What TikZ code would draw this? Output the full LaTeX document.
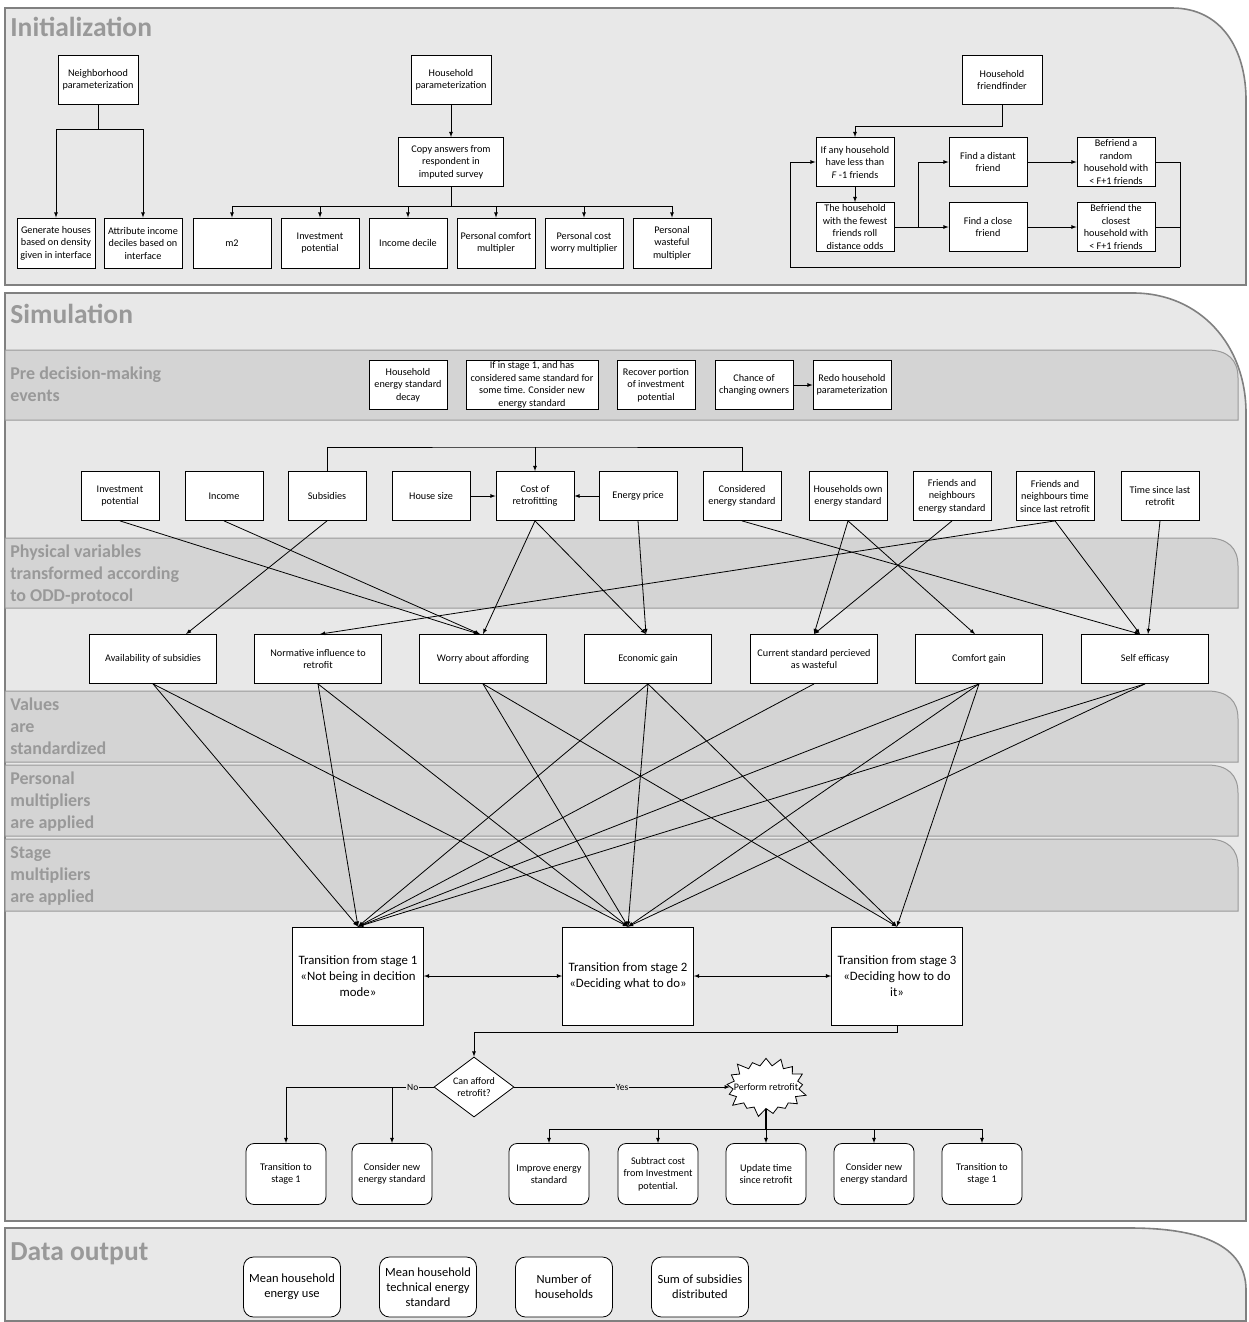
\documentclass[tikz,border=0pt]{standalone}
\usepackage{fontspec}
\setmainfont{Carlito}
\usetikzlibrary{arrows}
\usetikzlibrary{shapes.geometric,shapes.symbols}

\tikzset{
  lane/.style={draw=black!50, line width=1.6pt, fill=black!9},
  band/.style={draw=black!40, line width=1pt, fill=black!17},
  lanetitle/.style={anchor=base west, inner sep=0, text=black!40, font=\bfseries\fontsize{27.5}{30}\selectfont},
  bandtitle/.style={anchor=north west, inner sep=0, align=left, text=black!40, font=\bfseries\fontsize{18}{22}\selectfont},
  box/.style={draw, fill=white, align=center, minimum width=78, minimum height=49, inner sep=1pt, font=\fontsize{10.2}{12.5}\selectfont},
  widebox/.style={box, minimum width=127},
  stagebox/.style={draw, fill=white, align=center, minimum width=131, minimum height=98, font=\fontsize{12.8}{16}\selectfont},
  endbox/.style={box, rounded corners=8, minimum width=80, minimum height=61},
  outbox/.style={draw, fill=white, rounded corners=10, align=center, minimum width=97, minimum height=60, font=\fontsize{12.5}{15}\selectfont},
  lbl/.style={fill=black!9, inner sep=1pt, font=\fontsize{9.5}{11}\selectfont},
  >=latex
}

\begin{document}
\begin{tikzpicture}[x=1pt, y=-1pt, line width=0.8pt]
\useasboundingbox (0,0) rectangle (1249,1322);

% lanes
\draw[lane] (5,8) -- (1172,8) .. controls (1222,8) and (1246,50) .. (1246,100) -- (1246,285) -- (5,285) -- cycle;
\draw[lane] (5,293) -- (1133,293) .. controls (1200,293) and (1246,345) .. (1246,413) -- (1246,1221) -- (5,1221) -- cycle;
\draw[lane] (5,1228) -- (1130,1228) .. controls (1200,1228) and (1246,1245) .. (1246,1290) -- (1246,1321) -- (5,1321) -- cycle;
\foreach \t/\b in {350/420, 538/608, 691/762, 765/836, 839/911}
  \draw[band] (5,\t) -- (1207,\t) .. controls (1228,\t) and (1238,\t+10) .. (1238,\t+28) -- (1238,\b) -- (5,\b) -- cycle;

\node[lanetitle] (ttlinit) at (10,37) {Initialization};
\node[lanetitle] (ttlsim) at (10,323) {Simulation};
\node[lanetitle] (ttlout) at (10,1260) {Data output};
\node[bandtitle] (ttlpre) at (10,366) {Pre decision-making\\events};
\node[bandtitle] (ttlphys) at (10,544) {Physical variables\\transformed according\\to ODD-protocol};
\node[bandtitle] (ttlstd) at (10,697) {Values\\are\\standardized};
\node[bandtitle] (ttlpers) at (10,771) {Personal\\multipliers\\are applied};
\node[bandtitle] (ttlstage) at (10,846) {Stage\\multipliers\\are applied};

% initialization
\node[box, minimum width=80] (nbh) at (98,80) {Neighborhood\\parameterization};
\node[box, minimum width=80] (hhp) at (451,80) {Household\\parameterization};
\node[box, minimum width=105] (copyans) at (451,162) {Copy answers from\\respondent in\\imputed survey};
\node[box, minimum width=80] (ff) at (1002,80) {Household\\friendfinder};
\foreach \n/\x/\t in {gen/56/{Generate houses\\based on density\\given in interface}, attr/143/{Attribute income\\deciles based on\\interface}, msq/232/m2, invpot/320/{Investment\\potential}, incdec/408/{Income decile}, pcomf/496/{Personal comfort\\multipler}, pworry/584/{Personal cost\\worry multiplier}, pwaste/672/{Personal\\wasteful\\multipler}}
  \node[box, minimum height=50] (\n) at (\x,243) {\t};
\node[box] (ifany) at (855,162) {If any household\\have less than\\\textit{F} -1 friends};
\node[box] (fewest) at (855,227) {The household\\with the fewest\\friends roll\\distance odds};
\node[box] (distant) at (988,162) {Find a distant\\friend};
\node[box] (close) at (988,227) {Find a close\\friend};
\node[box] (random) at (1116,162) {Befriend a\\random\\household with\\< F+1 friends};
\node[box] (closest) at (1116,227) {Befriend the\\closest\\household with\\< F+1 friends};

\draw (nbh.south) -- (98,129) coordinate (nbhj);
\draw[->] (nbhj) -| (gen.north);
\draw[->] (nbhj) -| (attr.north);
\draw[->] (hhp) -- (copyans);
\draw (copyans.south) -- (451,206) coordinate (copyj);
\foreach \n in {msq,invpot,incdec,pcomf,pworry,pwaste}
  \draw[->] (copyj) -| (\n.north);
\draw[->] (ff.south) -- ++(0,21) -| (ifany.north);
\draw[->] (ifany) -- (fewest);
\draw (fewest.east) -- (918,227) coordinate (roll);
\draw[->] (roll) |- (distant.west);
\draw[->] (roll) -- (close.west);
\draw[->] (distant) -- (random);
\draw[->] (close) -- (closest);
\draw (random.east) -| (1180,267) coordinate (loop);
\draw (closest.east) -- (closest.east -| loop);
\draw[->] (loop) -- (790,267) |- (ifany.west);

% pre decision-making events
\node[box] (decay) at (408,385) {Household\\energy standard\\decay};
\node[box, minimum width=132, inner sep=0.5pt] (newstd) at (532,385) {If in stage 1, and has\\considered same standard for\\some time. Consider new\\energy standard};
\node[box] (recover) at (656,385) {Recover portion\\of investment\\potential};
\node[box] (owners) at (754,385) {Chance of\\changing owners};
\node[box] (redo) at (852,385) {Redo household\\parameterization};
\draw[->] (owners) -- (redo);

% physical variables
\foreach \n/\x/\t in {invp/120/{Investment\\potential}, income/224/Income, subs/327/Subsidies, hsize/431/House size, cost/535/{Cost of\\retrofitting}, eprice/638/Energy price, cons/742/{Considered\\energy standard}, ownstd/848/{Households own\\energy standard}, frstd/952/{Friends and\\neighbours\\energy standard}, frtime/1055/{Friends and\\neighbours time\\since last retrofit}, tlast/1160/{Time since last\\retrofit}}
  \node[box] (\n) at (\x,496) {\t};
\foreach \n/\x/\t in {avail/153/Availability of subsidies, norm/318/{Normative influence to\\retrofit}, worry/483/Worry about affording, econ/648/Economic gain, waste/814/{Current standard percieved\\as wasteful}, comfort/979/Comfort gain, selfeff/1145/Self efficasy}
  \node[widebox] (\n) at (\x,659) {\t};

\coordinate (costj) at (535,447);
\draw (subs.north) |- (costj) -| (cons.north);
\draw[->] (costj) -- (cost.north);
\draw[->] (hsize) -- (cost);
\draw[->] (eprice) -- (cost);
\draw[->] (invp.south) -- ([xshift=-4]worry.north);
\draw[->] (income.south) -- ([xshift=-3]worry.north);
\draw[->] (subs.south) -- ([xshift=33]avail.north);
\draw[->] (cost.south) -- (worry.north);
\draw[->] (cost.south) -- ([xshift=-2]econ.north);
\draw[->] (eprice.south) -- ([xshift=-2]econ.north);
\draw[->] (cons.south) -- ([xshift=-5]selfeff.north);
\draw[->] (ownstd.south) -- (waste.north);
\draw[->] (ownstd.south) -- ([xshift=-4]comfort.north);
\draw[->] (frstd.south) -- (waste.north);
\draw[->] (frtime.south) -- ([xshift=2]norm.north);
\draw[->] (frtime.south) -- ([xshift=-5]selfeff.north);
\draw[->] (tlast.south) -- ([xshift=3]selfeff.north);

% stages
\node[stagebox] (st1) at (358,976) {Transition from stage 1\\«Not being in decition\\mode»};
\node[stagebox] (st2) at (628,976) {Transition from stage 2\\«Deciding what to do»};
\node[stagebox] (st3) at (897,976) {Transition from stage 3\\«Deciding how to do\\it»};
\foreach \a/\b in {avail/st1, avail/st2, norm/st1, norm/st2, worry/st2, worry/st3, econ/st1, econ/st2, econ/st3, waste/st1, comfort/st1, comfort/st2, comfort/st3, selfeff/st1, selfeff/st2}
  \draw[->] (\a.south) -- (\b.north);
\draw[<->] (st1) -- (st2);
\draw[<->] (st2) -- (st3);

% retrofit decision
\node[draw, fill=white, diamond, aspect=1.33, minimum width=80, minimum height=60, inner sep=0pt, align=center, font=\fontsize{10}{12.5}\selectfont] (afford) at (474,1087) {Can afford\\retrofit?};
\node[draw, fill=white, starburst, starburst points=17, starburst point height=10pt, minimum width=86pt, minimum height=63pt, inner sep=0pt, label={[font=\fontsize{10}{12}\selectfont]center:Perform retrofit}] (perform) at (766,1087) {};
\foreach \n/\x/\t in {tra1/286/{Transition to\\stage 1}, cne1/392/{Consider new\\energy standard}, imp/549/{Improve energy\\standard}, subc/658/{Subtract cost\\from Investment\\potential.}, upd/766/{Update time\\since retrofit}, cne2/874/{Consider new\\energy standard}, tra2/982/{Transition to\\stage 1}}
  \node[endbox] (\n) at (\x,1174) {\t};

\draw[->] (st3.south) -- ++(0,7) -| (afford.north);
\draw (afford.west) -- node[lbl]{No} (afford.west -| cne1.north) coordinate (noj);
\draw[->] (noj) -| (tra1.north);
\draw[->] (noj) -- (cne1.north);
\draw[->] (afford.east) -- node[lbl]{Yes} (perform.west);
\draw[line width=1.6pt] (perform.south) -- (766,1129) coordinate (doj);
\foreach \n in {imp,subc,upd,cne2,tra2}
  \draw[->] (doj) -| (\n.north);

% data output
\foreach \n/\x/\t in {meanuse/292/{Mean household\\energy use}, meanstd/428/{Mean household\\technical energy\\standard}, numhh/564/{Number of\\households}, sumsub/700/{Sum of subsidies\\distributed}}
  \node[outbox] (\n) at (\x,1287) {\t};
\end{tikzpicture}
\end{document}
